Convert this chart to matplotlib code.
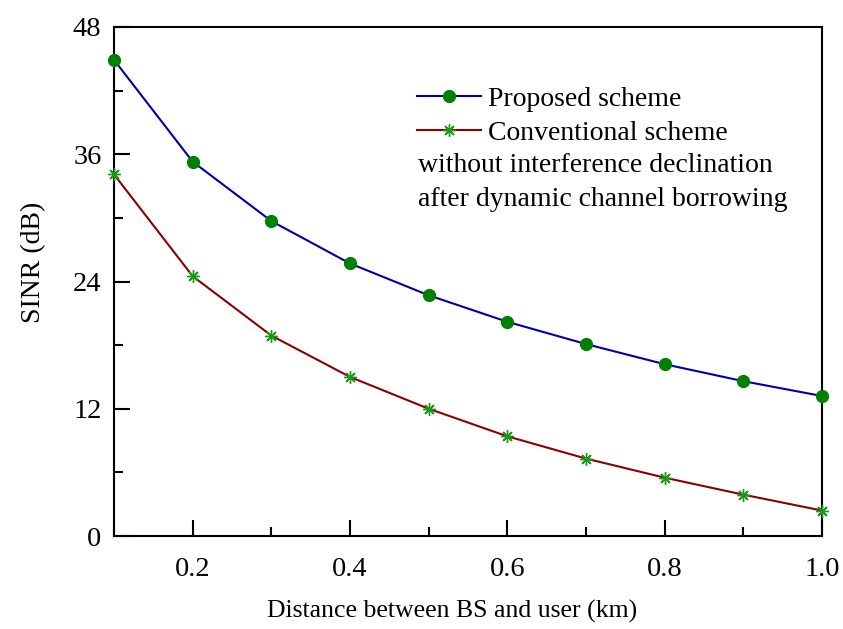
import matplotlib
matplotlib.use("Agg")
import matplotlib.pyplot as plt
from matplotlib.ticker import MultipleLocator

distance_km = [0.1, 0.2, 0.3, 0.4, 0.5, 0.6, 0.7, 0.8, 0.9, 1.0]
sinr_proposed = [44.9, 35.3, 29.7, 25.7, 22.7, 20.2, 18.1, 16.2, 14.6, 13.2]
sinr_conventional = [34.1, 24.5, 18.9, 15.0, 12.0, 9.4, 7.3, 5.5, 3.9, 2.4]

plt.rcParams["font.family"] = ["Liberation Serif", "DejaVu Serif"]

fig = plt.figure(figsize=(8.43, 6.29), dpi=100)
ax = fig.add_axes([114 / 843, 1 - 536 / 629, (822 - 114) / 843, (536 - 27) / 629])

ax.plot(distance_km, sinr_proposed, color="#0000a8", lw=1.5,
        marker="o", ms=8.5, mfc="#008000", mec="#008000",
        label="Proposed scheme", clip_on=False, zorder=3)
ax.plot(distance_km, sinr_conventional, color="#8b0000", lw=1.5,
        marker=(8, 2, 0), ms=9, mec="#1a9a1a", mew=1.0,
        label="Conventional scheme", clip_on=False, zorder=3)

ax.set_xlim(0.1, 1.0)
ax.set_ylim(0, 48)
ax.xaxis.set_minor_locator(MultipleLocator(0.1))
ax.yaxis.set_major_locator(MultipleLocator(12))
ax.yaxis.set_minor_locator(MultipleLocator(6))
ax.set_xticks([0.2, 0.4, 0.6, 0.8, 1.0])
ax.set_xticklabels(["0.2", "0.4", "0.6", "0.8", "1.0"])
ax.tick_params(which="both", direction="in", top=False, right=False,
               labelsize=20.5, width=1.5)
ax.tick_params(which="major", length=11.5)
ax.tick_params(axis="x", which="major", pad=15)
ax.tick_params(axis="y", which="major", pad=9)
ax.tick_params(which="minor", length=6.5)
for s in ax.spines.values():
    s.set_linewidth(1.5)

ax.set_xlabel("Distance between BS and user (km)", fontsize=18.5)
ax.xaxis.set_label_coords(0.478, -0.125)
ax.set_ylabel("SINR (dB)", fontsize=20)
ax.yaxis.set_label_coords(-0.096, 0.538)

ax.legend(loc="upper left", bbox_to_anchor=(0.428, 0.883), frameon=False,
          fontsize=20, handlelength=2.3, handletextpad=0.25,
          labelspacing=0.3, borderaxespad=0, borderpad=0)
ax.text(0.429, 0.752, "without interference declination\nafter dynamic channel borrowing",
        transform=ax.transAxes, fontsize=20, va="top", ha="left", linespacing=1.45)

fig.savefig("out.png", dpi=100)
